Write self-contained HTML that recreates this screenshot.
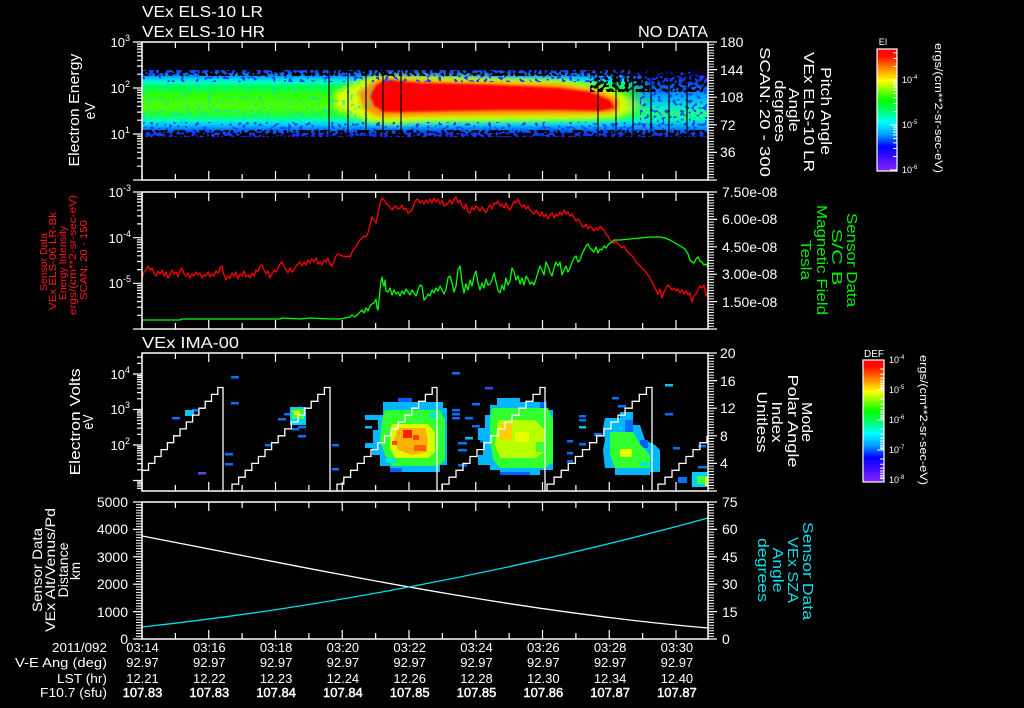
<!DOCTYPE html>
<html><head><meta charset="utf-8"><style>html,body{margin:0;padding:0;background:#000}svg{display:block}</style></head>
<body>
<svg width="1024" height="708" viewBox="0 0 1024 708" xmlns="http://www.w3.org/2000/svg" font-family="'Liberation Sans', sans-serif">
<defs>
  <linearGradient id="cb" x1="0" y1="0" x2="0" y2="1">
    <stop offset="0" stop-color="#ff0000"/><stop offset="0.06" stop-color="#ff1000"/>
    <stop offset="0.14" stop-color="#ff7000"/><stop offset="0.26" stop-color="#ffff00"/>
    <stop offset="0.42" stop-color="#00ff00"/><stop offset="0.5" stop-color="#00ff60"/>
    <stop offset="0.6" stop-color="#00ffff"/><stop offset="0.7" stop-color="#00a0ff"/>
    <stop offset="0.8" stop-color="#0000ff"/><stop offset="1" stop-color="#8a20ff"/>
  </linearGradient>
  <linearGradient id="gBase" gradientUnits="userSpaceOnUse" x1="0" y1="70" x2="0" y2="137">
    <stop offset="0" stop-color="#1838e8"/><stop offset="0.06" stop-color="#0070ff"/>
    <stop offset="0.12" stop-color="#00c0ff"/><stop offset="0.18" stop-color="#00ffc0"/>
    <stop offset="0.25" stop-color="#00ff50"/><stop offset="0.37" stop-color="#30ff00"/>
    <stop offset="0.55" stop-color="#50ff00"/><stop offset="0.66" stop-color="#20ff30"/>
    <stop offset="0.75" stop-color="#00ffb0"/><stop offset="0.82" stop-color="#00c8ff"/>
    <stop offset="0.88" stop-color="#0080ff"/><stop offset="0.94" stop-color="#0040ff"/>
    <stop offset="1" stop-color="#2020d0"/>
  </linearGradient>
  <linearGradient id="gRight" gradientUnits="userSpaceOnUse" x1="0" y1="70" x2="0" y2="137">
    <stop offset="0" stop-color="#000040"/><stop offset="0.1" stop-color="#1020e0"/>
    <stop offset="0.25" stop-color="#0060ff"/><stop offset="0.4" stop-color="#00a8ff"/>
    <stop offset="0.55" stop-color="#00e8d0"/><stop offset="0.65" stop-color="#20ff80"/>
    <stop offset="0.75" stop-color="#00f0c0"/><stop offset="0.85" stop-color="#00a0ff"/>
    <stop offset="0.93" stop-color="#0050ff"/><stop offset="1" stop-color="#1020c0"/>
  </linearGradient>
  <linearGradient id="fadeR" gradientUnits="userSpaceOnUse" x1="622" y1="0" x2="652" y2="0">
    <stop offset="0" stop-color="#000"/><stop offset="1" stop-color="#fff"/>
  </linearGradient>
  <mask id="mR"><rect x="590" y="60" width="130" height="90" fill="url(#fadeR)"/></mask>
  <clipPath id="c1"><rect x="142" y="70" width="566" height="67"/></clipPath>
  <filter id="bl3" x="-20%" y="-50%" width="140%" height="200%"><feGaussianBlur stdDeviation="3"/></filter>
  <filter id="bl2" x="-20%" y="-50%" width="140%" height="200%"><feGaussianBlur stdDeviation="2"/></filter>
  <filter id="bl1" x="-20%" y="-50%" width="140%" height="200%"><feGaussianBlur stdDeviation="1"/></filter>
  <filter id="nBlk" x="0" y="0" width="1" height="1" color-interpolation-filters="sRGB">
    <feTurbulence type="fractalNoise" baseFrequency="0.26 0.3" numOctaves="1" seed="3"/>
    <feColorMatrix type="matrix" values="0 0 0 0 0  0 0 0 0 0  0 0 0 0 0  1 0 0 0 0"/>
    <feComponentTransfer><feFuncA type="discrete" tableValues="0 0 0 0 0 1 1 1 1 1"/></feComponentTransfer>
  </filter>
  <filter id="nBlk2" x="0" y="0" width="1" height="1" color-interpolation-filters="sRGB">
    <feTurbulence type="fractalNoise" baseFrequency="0.24 0.28" numOctaves="1" seed="11"/>
    <feColorMatrix type="matrix" values="0 0 0 0 0  0 0 0 0 0  0 0 0 0 0  1 0 0 0 0"/>
    <feComponentTransfer><feFuncA type="discrete" tableValues="0 0 0 0 0 1 1 1 1 1"/></feComponentTransfer>
  </filter>
  <filter id="nBlu" x="0" y="0" width="1" height="1" color-interpolation-filters="sRGB">
    <feTurbulence type="fractalNoise" baseFrequency="0.26 0.3" numOctaves="1" seed="7"/>
    <feColorMatrix type="matrix" values="0 0 0 0 0.1  0 0 0 0 0.25  0 0 0 0 1  1 0 0 0 0"/>
    <feComponentTransfer><feFuncA type="discrete" tableValues="0 0 0 0 0 0 1 1 1 1"/></feComponentTransfer>
  </filter>
  <filter id="nCy" x="0" y="0" width="1" height="1" color-interpolation-filters="sRGB">
    <feTurbulence type="fractalNoise" baseFrequency="0.26 0.3" numOctaves="1" seed="19"/>
    <feColorMatrix type="matrix" values="0 0 0 0 0  0 0 0 0 0.85  0 0 0 0 1  1 0 0 0 0"/>
    <feComponentTransfer><feFuncA type="discrete" tableValues="0 0 0 0 0 1 1 1"/></feComponentTransfer>
  </filter>
  <g id="tx">
    <line x1="141.4" y1="4.5" x2="708" y2="4.5" stroke="#fff" stroke-width="9" stroke-dasharray="1.2 65.55"/>
    <line x1="174.8" y1="3" x2="708" y2="3" stroke="#fff" stroke-width="6" stroke-dasharray="1.2 65.55"/>
  </g>
</defs>

<rect x="0" y="0" width="1024" height="708" fill="#000"/>

<g fill="#fff" font-size="16">
  <text x="142" y="17" textLength="121" lengthAdjust="spacingAndGlyphs">VEx ELS-10 LR</text>
  <text x="142" y="37" textLength="123" lengthAdjust="spacingAndGlyphs">VEx ELS-10 HR</text>
  <text x="638" y="37" textLength="70" lengthAdjust="spacingAndGlyphs">NO DATA</text>
  <text x="142" y="348" textLength="97" lengthAdjust="spacingAndGlyphs">VEx IMA-00</text>
</g>

<!-- PANEL 1 spectrogram -->
<g clip-path="url(#c1)">
  <rect x="142" y="70" width="566" height="67" fill="url(#gBase)"/>
  <polygon fill="#d8ff00" filter="url(#bl3)" points="335,92 350,85 365,78 380,75 420,76 500,78 560,80 600,86 625,95 640,103 635,112 615,118 580,120 500,121 420,122 390,124 370,122 350,115 335,108"/>
  <polygon fill="#ff9000" filter="url(#bl2)" points="358,93 372,82 385,78 420,80 500,82 560,84 598,90 620,100 617,112 598,114 500,115 420,116 380,117 364,110"/>
  <polygon fill="#ff0000" filter="url(#bl1)" points="370,95 377,84 388,80 420,83 470,84 520,86 560,88 590,92 610,100 615,108 600,111 560,110 500,110 450,111 400,112 385,112 374,106"/>
  <rect x="600" y="70" width="108" height="67" fill="url(#gRight)" mask="url(#mR)"/>
  <rect x="142" y="82" width="230" height="40" fill="#000" filter="url(#nCy)" opacity="0.55"/>
  <rect x="142" y="72" width="566" height="10" fill="#000" filter="url(#nBlu)"/>
  <rect x="142" y="122" width="566" height="15" fill="#000" filter="url(#nBlu)"/>
  <rect x="640" y="86" width="68" height="48" fill="#000" filter="url(#nBlu)"/>
  <rect x="142" y="70" width="566" height="6" fill="#000" filter="url(#nBlk)"/>
  <rect x="142" y="130" width="566" height="7" fill="#000" filter="url(#nBlk)"/>
  <rect x="590" y="70" width="118" height="22" fill="#000" filter="url(#nBlk2)"/>
  <g stroke="#000" stroke-width="1.2">
    <line x1="329" y1="70" x2="329" y2="137"/><line x1="348" y1="70" x2="348" y2="137"/>
    <line x1="366" y1="70" x2="366" y2="137"/><line x1="383" y1="70" x2="383" y2="137"/>
    <line x1="401" y1="70" x2="401" y2="137"/><line x1="598" y1="70" x2="598" y2="137"/>
    <line x1="616" y1="70" x2="616" y2="137"/><line x1="633" y1="70" x2="633" y2="137"/>
    <line x1="651" y1="70" x2="651" y2="137"/><line x1="669" y1="70" x2="669" y2="137"/>
    <line x1="687" y1="70" x2="687" y2="137"/>
  </g>
</g>

<!-- PANEL 2 lines -->
<polyline fill="none" stroke="#ff0000" stroke-width="1.3" stroke-linejoin="round" points="142,279 144,272 146,270 148,266 150,270 152,268 154,273 156,276 158,271 160,274 162,270 164,276 166,272 168,278 170,275 172,270 174,274 176,272 178,277 180,271 182,268 184,274 186,276 188,273 190,278 192,274 194,276 196,272 198,275 200,273 202,278 204,275 206,276 208,272 210,277 212,274 214,276 216,271 218,273 220,268 222,266 224,275 226,280 228,276 230,278 232,273 234,276 236,272 238,279 240,274 242,276 244,271 246,277 248,275 250,278 252,273 254,276 256,270 258,272 260,266 262,265 264,270 266,274 268,271 270,278 272,274 274,270 276,272 278,268 280,264 282,262 284,266 286,270 288,273 290,268 292,272 294,270 296,266 298,264 300,262 302,266 304,262 306,265 308,260 310,263 312,259 314,262 316,258 318,264 320,262 322,265 324,260 326,262 328,258 330,264 332,266 334,262 336,256 338,254 340,255 342,256 344,256 346,257 348,256 350,257 352,252 354,249 356,247 358,243 360,240 362,238 364,236 366,237 368,233 370,225 372,217 374,220 376,223 378,214 380,204 382,198 384,200 386,203 388,205 390,207 392,210 394,207 396,206 398,209 400,208 402,205 404,210 406,208 408,213 410,212 412,210 414,204 416,200 418,199 420,203 422,201 424,204 426,200 428,203 430,199 432,203 434,198 436,202 438,199 440,204 442,200 444,206 446,205 448,203 450,200 452,204 454,199 456,197 458,203 460,200 462,206 464,209 466,204 468,212 470,213 472,207 474,210 476,206 478,208 480,211 482,207 484,210 486,213 488,208 490,205 492,209 494,203 496,204 498,201 500,206 502,204 504,208 506,203 508,208 510,210 512,206 514,201 516,203 518,199 520,204 522,207 524,205 526,209 528,206 530,210 532,212 534,214 536,210 538,213 540,216 542,212 544,217 546,214 548,219 550,215 552,213 554,218 556,214 558,216 560,212 562,215 564,210 566,214 568,212 570,216 572,214 574,218 576,221 578,219 580,222 582,226 584,227 586,224 588,229 590,226 592,228 594,231 596,228 598,230 600,226 602,229 604,230 606,234 608,236 610,240 612,242 614,243 616,241 618,244 620,245 622,248 624,246 626,250 628,252 630,254 632,256 634,258 636,262 638,264 640,266 642,268 644,270 646,272 648,275 650,278 652,282 654,286 656,290 658,294 660,289 662,298 664,292 666,288 668,285 670,287 672,290 674,288 676,291 678,289 680,293 682,290 684,294 686,291 688,295 690,293 692,302 694,296 696,294 698,290 700,286 702,288 704,285 706,296 708,292"/>
<polyline fill="none" stroke="#00ff00" stroke-width="1.3" stroke-linejoin="round" points="142,320 180,320 182,319 200,319 240,319 260,319 280,319 282,318 300,319 310,318 330,319 340,319 345,318 350,317 352,315 355,317 358,314 360,312 362,310 364,313 366,308 368,311 370,306 372,304 374,303 376,299 377,308 378,310 379,300 380,290 381,282 382,277 383,284 384,286 385,280 386,291 388,292 390,288 392,295 394,290 396,294 398,292 400,296 402,291 404,294 406,289 408,292 410,295 412,290 414,293 416,296 418,290 420,285 422,286 424,300 426,298 428,294 430,296 432,290 434,293 436,288 438,291 440,286 442,290 444,294 446,289 448,278 450,276 452,283 454,292 456,286 458,270 460,266 462,282 464,293 466,284 468,290 470,280 472,286 474,276 476,271 478,283 480,290 482,283 484,288 486,279 488,285 490,284 492,280 494,273 496,282 498,290 500,293 502,285 504,290 506,278 508,285 510,281 512,268 514,272 516,280 518,276 520,284 522,278 524,285 526,276 528,279 530,284 532,282 534,285 536,279 538,272 540,266 542,270 544,275 546,262 548,266 550,272 552,276 554,268 556,262 558,266 560,262 562,275 564,270 566,266 568,272 570,268 572,262 574,258 576,256 578,262 580,260 582,254 584,250 586,246 588,244 590,248 592,250 594,252 596,247 598,253 600,249 602,250 604,246 606,248 608,245 610,243 612,242 614,240 620,240 630,239 640,238 650,237 660,237 665,238 670,240 675,243 680,246 685,249 688,254 690,260 692,262 694,263 696,259 698,257 700,261 702,262 704,265 706,264 708,267"/>

<!-- PANEL 3 spectrogram -->
<g>
  <g fill="#0070ff">
    <rect x="172" y="417" width="8" height="2.5"/><rect x="192" y="409" width="6" height="2.5"/>
    <rect x="198" y="472" width="8" height="2.5" fill="#6040ff"/><rect x="231" y="376" width="8" height="2.5"/>
    <rect x="231" y="402" width="8" height="2.5"/><rect x="225" y="453" width="8" height="2.5"/>
    <rect x="225" y="463" width="8" height="2.5"/><rect x="265" y="444" width="7" height="2.5"/>
    <rect x="278" y="418" width="8" height="2.5"/><rect x="284" y="413" width="7" height="2.5"/>
    <rect x="292" y="428" width="7" height="2.5"/><rect x="298" y="426" width="8" height="2.5"/>
    <rect x="298" y="435" width="8" height="2.5"/><rect x="332" y="444" width="7" height="2.5"/>
    <rect x="332" y="468" width="7" height="2.5"/><rect x="365" y="426" width="7" height="2.5" fill="#00c0ff"/>
    <rect x="372" y="445" width="6" height="2.5"/><rect x="452" y="372" width="8" height="2.5"/>
    <rect x="452" y="409" width="8" height="2.5"/><rect x="452" y="413" width="8" height="2.5"/>
    <rect x="452" y="417" width="8" height="2.5"/><rect x="465" y="417" width="8" height="2.5"/>
    <rect x="465" y="437" width="8" height="2.5" fill="#00c0ff"/><rect x="458" y="442" width="9" height="2.5"/>
    <rect x="458" y="449" width="9" height="2.5"/><rect x="458" y="464" width="9" height="2.5"/>
    <rect x="472" y="403" width="8" height="2.5"/><rect x="485" y="387" width="8" height="2.5" fill="#4040ff"/>
    <rect x="472" y="425" width="8" height="2.5"/><rect x="480" y="432" width="7" height="2.5"/>
    <rect x="480" y="440" width="7" height="2.5"/><rect x="480" y="457" width="7" height="2.5"/>
    <rect x="567" y="440" width="6" height="2.5"/><rect x="567" y="452" width="6" height="2.5"/>
    <rect x="567" y="460" width="6" height="2.5"/><rect x="579" y="415" width="7" height="2.5"/>
    <rect x="579" y="419" width="7" height="2.5"/><rect x="579" y="426" width="7" height="2.5" fill="#00c0ff"/>
    <rect x="579" y="443" width="7" height="2.5"/><rect x="665" y="384" width="8" height="2.5" fill="#00c0ff"/>
    <rect x="665" y="413" width="8" height="2.5"/><rect x="673" y="447" width="7" height="2.5"/>
    <rect x="678" y="477" width="9" height="6"/><rect x="698" y="445" width="8" height="2.5"/>
    <rect x="698" y="466" width="9" height="2.5"/><rect x="612" y="397" width="7" height="2.5"/>
    <rect x="618" y="405" width="8" height="2.5"/><rect x="594" y="433" width="8" height="3"/>
  </g>
  <rect x="185" y="410" width="9" height="6" fill="#00c8ff"/>
  <rect x="290" y="407" width="16" height="18" fill="#00d0ff"/>
  <rect x="292" y="409" width="12" height="10" fill="#40ff30"/>
  <rect x="294" y="411" width="6" height="4" fill="#d8ff00"/>
  <rect x="692" y="472" width="16" height="15" fill="#00d0ff"/>
  <rect x="697" y="476" width="10" height="8" fill="#40ff40"/>
  <rect x="705" y="477" width="3" height="9" fill="#e0ff00"/>
  <polygon fill="#00b8ff" points="398,398 412,398 412,402 443,402 443,408 447,408 447,465 440,465 440,472 390,472 390,466 380,466 380,455 372,455 372,448 365,448 365,443 373,443 373,430 378,430 378,420 365,420 365,415 383,415 383,402 398,402"/>
  <rect x="398" y="398" width="14" height="4" fill="#0060ff"/>
  <rect x="390" y="468" width="12" height="4" fill="#0060ff"/>
  <polygon fill="#30ff30" points="385,410 440,410 445,420 445,460 438,466 392,466 385,455 380,440 382,420"/>
  <rect x="430" y="412" width="8" height="6" fill="#00e8d0"/>
  <rect x="386" y="458" width="10" height="5" fill="#00e8d0"/>
  <polygon fill="#d8ff00" points="392,424 428,424 435,432 435,452 428,458 395,458 390,448 390,432"/>
  <polygon fill="#ffb000" points="398,428 425,428 428,440 427,452 412,455 398,450 394,440"/>
  <rect x="403" y="430" width="9" height="8" fill="#ff2000"/>
  <rect x="413" y="435" width="6" height="5" fill="#ff4000"/>
  <rect x="392" y="441" width="5" height="4" fill="#ff4000"/>
  <rect x="414" y="445" width="12" height="6" fill="#ff6000"/>
  <polygon fill="#00b8ff" points="497,398 520,398 520,402 545,402 545,410 553,410 553,470 540,470 540,475 500,475 500,470 490,470 490,465 478,465 478,455 483,455 483,440 478,440 478,428 485,428 485,415 490,415 490,405 497,405"/>
  <rect x="540" y="402" width="7" height="8" fill="#0060ff"/>
  <rect x="500" y="472" width="30" height="3" fill="#0060ff"/>
  <polygon fill="#30ff30" points="492,408 548,408 553,420 553,462 545,468 500,468 493,460 490,440 490,420"/>
  <polygon fill="#b8ff00" points="498,420 535,420 545,430 545,452 535,458 500,458 495,445"/>
  <rect x="500" y="424" width="12" height="16" fill="#ffd000"/>
  <rect x="515" y="432" width="14" height="10" fill="#e8ff00"/>
  <rect x="536" y="442" width="9" height="10" fill="#40ff40"/>
  <polygon fill="#00b8ff" points="605,418 620,418 620,412 633,412 633,425 640,425 645,440 655,445 660,450 660,472 650,472 650,475 615,475 615,468 605,468 603,450 605,440 603,428"/>
  <rect x="625" y="420" width="8" height="18" fill="#0070ff"/>
  <rect x="640" y="440" width="8" height="8" fill="#0060ff"/>
  <polygon fill="#30ff30" points="610,432 633,432 640,444 650,455 650,468 615,468 610,455"/>
  <rect x="620" y="449" width="12" height="8" fill="#e8ff00"/>
  <rect x="640" y="462" width="10" height="4" fill="#00e8d0"/>
  <path fill="none" stroke="#fff" stroke-width="1.3" d="M142 470.3h6.5v-6.9h6.3v-6.9h6.3v-6.9h6.3v-6.9h6.3v-6.9h6.3v-6.9h6.3v-6.9h6.3v-6.9h6.3v-6.9h6.3v-6.9h6.3v-6.9h6.3v-6.9H223V491
  M232 491V484.1h6.6v-6.9h6.6v-6.9h6.6v-6.9h6.6v-6.9h6.6v-6.9h6.6v-6.9h6.6v-6.9h6.6v-6.9h6.6v-6.9h6.6v-6.9h6.6v-6.9h6.6v-6.9h6.6v-6.9h6.6v-6.9H330V491
  M337 491V484.1h6.8v-6.9h6.8v-6.9h6.8v-6.9h6.8v-6.9h6.8v-6.9h6.8v-6.9h6.8v-6.9h6.8v-6.9h6.8v-6.9h6.8v-6.9h6.8v-6.9h6.8v-6.9h6.8v-6.9h6.8v-6.9H437V491
  M442 491V484.1h7v-6.9h7v-6.9h7v-6.9h7v-6.9h7v-6.9h7v-6.9h7v-6.9h7v-6.9h7v-6.9h7v-6.9h7v-6.9h7v-6.9h7v-6.9h7v-6.9H545V491
  M547 491V484.1h7.1v-6.9h7.1v-6.9h7.1v-6.9h7.1v-6.9h7.1v-6.9h7.1v-6.9h7.1v-6.9h7.1v-6.9h7.1v-6.9h7.1v-6.9h7.1v-6.9h7.1v-6.9h7.1v-6.9h7.1v-6.9H652V491
  M658 491V484.1h7v-6.9h7v-6.9h7v-6.9h7v-6.9h7v-6.9h7v-6.9h7v-6.9"/>
</g>

<!-- PANEL 4 lines -->
<path fill="none" stroke="#fff" stroke-width="1.3" d="M142 536C300 566 500 610 708 628"/>
<path fill="none" stroke="#00e0ee" stroke-width="1.3" d="M142 627C300 610 500 575 708 518"/>

<!-- FRAMES & TICKS -->
<g fill="none" stroke="#fff" stroke-width="1.5">
  <rect x="142" y="42" width="566" height="138"/>
  <rect x="142" y="192" width="566" height="137"/>
  <rect x="142" y="353" width="566" height="138"/>
  <rect x="142" y="502" width="566" height="137"/>
</g>
<use href="#tx" y="42"/><use href="#tx" transform="matrix(1 0 0 -1 0 180)"/>
<use href="#tx" y="192"/><use href="#tx" transform="matrix(1 0 0 -1 0 329)"/>
<use href="#tx" y="353"/><use href="#tx" transform="matrix(1 0 0 -1 0 491)"/>
<use href="#tx" y="502"/><use href="#tx" transform="matrix(1 0 0 -1 0 639)"/>
<g stroke="#fff">
  <line x1="711" y1="41.5" x2="711" y2="180.6" stroke-width="6" stroke-dasharray="1 1.76"/>
  <line x1="712.5" y1="41.4" x2="712.5" y2="181" stroke-width="9" stroke-dasharray="1.2 26.4"/>
  <line x1="711" y1="191.5" x2="711" y2="329.6" stroke-width="6" stroke-dasharray="1 1.74"/>
  <line x1="712.5" y1="191.4" x2="712.5" y2="330" stroke-width="9" stroke-dasharray="1.2 26.2"/>
  <line x1="711" y1="352.5" x2="711" y2="491.6" stroke-width="6" stroke-dasharray="1 1.76"/>
  <line x1="712.5" y1="352.4" x2="712.5" y2="492" stroke-width="9" stroke-dasharray="1.2 26.4"/>
  <line x1="711" y1="501.5" x2="711" y2="639.6" stroke-width="6" stroke-dasharray="1 1.74"/>
  <line x1="712.5" y1="501.4" x2="712.5" y2="640" stroke-width="9" stroke-dasharray="1.2 26.2"/>
  <line x1="139" y1="501.5" x2="139" y2="639.6" stroke-width="6" stroke-dasharray="1 1.74"/>
  <line x1="137.5" y1="501.4" x2="137.5" y2="640" stroke-width="9" stroke-dasharray="1.2 26.2"/>
  <path stroke-width="1.2" fill="none" d="M142 42h-9M142 88h-9M142 134h-9M142 180h-9
  M142 166.2h-5M142 158.1h-5M142 152.3h-5M142 147.9h-5M142 144.2h-5M142 141.1h-5M142 138.5h-5M142 136.1h-5
  M142 120.2h-5M142 112.1h-5M142 106.3h-5M142 101.9h-5M142 98.2h-5M142 95.1h-5M142 92.5h-5M142 90.1h-5
  M142 74.2h-5M142 66.1h-5M142 60.3h-5M142 55.9h-5M142 52.2h-5M142 49.1h-5M142 46.5h-5M142 44.1h-5
  M142 192h-9M142 237.7h-9M142 283.3h-9M142 329h-9
  M142 315.3h-5M142 307.2h-5M142 301.5h-5M142 297.1h-5M142 293.5h-5M142 290.4h-5M142 287.8h-5M142 285.4h-5
  M142 269.6h-5M142 261.5h-5M142 255.8h-5M142 251.4h-5M142 247.8h-5M142 244.7h-5M142 242.1h-5M142 239.8h-5
  M142 223.9h-5M142 215.9h-5M142 210.2h-5M142 205.8h-5M142 202.1h-5M142 199.1h-5M142 196.4h-5M142 194.1h-5
  M142 374h-9M142 409.5h-9M142 445h-9M142 480.5h-9
  M142 488.4h-5M142 486h-5M142 483.9h-5M142 482.1h-5
  M142 469.8h-5M142 463.6h-5M142 459.1h-5M142 455.7h-5M142 452.9h-5M142 450.5h-5M142 448.4h-5M142 446.6h-5
  M142 434.3h-5M142 428.1h-5M142 423.6h-5M142 420.2h-5M142 417.4h-5M142 415h-5M142 412.9h-5M142 411.1h-5
  M142 398.8h-5M142 392.6h-5M142 388.1h-5M142 384.7h-5M142 381.9h-5M142 379.5h-5M142 377.4h-5M142 375.6h-5
  M142 363.3h-5M142 357.1h-5"/>
</g>

<!-- TICK LABELS -->
<g fill="#fff" font-size="13" text-anchor="end">
  <text x="130" y="47">10<tspan font-size="9" dy="-6">3</tspan></text>
  <text x="130" y="93">10<tspan font-size="9" dy="-6">2</tspan></text>
  <text x="130" y="139">10<tspan font-size="9" dy="-6">1</tspan></text>
  <text x="131" y="197">10<tspan font-size="9" dy="-6">-3</tspan></text>
  <text x="131" y="243">10<tspan font-size="9" dy="-6">-4</tspan></text>
  <text x="131" y="288">10<tspan font-size="9" dy="-6">-5</tspan></text>
  <text x="130" y="379">10<tspan font-size="9" dy="-6">4</tspan></text>
  <text x="130" y="414">10<tspan font-size="9" dy="-6">3</tspan></text>
  <text x="130" y="450">10<tspan font-size="9" dy="-6">2</tspan></text>
</g>
<g fill="#fff" font-size="14" text-anchor="end">
  <text x="128" y="507">5000</text><text x="128" y="534">4000</text><text x="128" y="562">3000</text>
  <text x="128" y="589">2000</text><text x="128" y="617">1000</text><text x="128" y="644">0</text>
</g>
<g fill="#fff" font-size="14">
  <text x="720" y="47">180</text><text x="720" y="75">144</text><text x="720" y="102">108</text>
  <text x="720" y="130">72</text><text x="720" y="157">36</text>
  <text x="722" y="197">7.50e-08</text><text x="722" y="224">6.00e-08</text><text x="722" y="252">4.50e-08</text>
  <text x="722" y="279">3.00e-08</text><text x="722" y="307">1.50e-08</text>
  <text x="720" y="358">20</text><text x="720" y="386">16</text><text x="720" y="413">12</text>
  <text x="720" y="441">8</text><text x="720" y="468">4</text>
  <text x="722" y="507">75</text><text x="722" y="534">60</text><text x="722" y="562">45</text>
  <text x="722" y="589">30</text><text x="722" y="617">15</text><text x="722" y="644">0</text>
</g>

<!-- AXIS TITLES -->
<g fill="#fff" font-size="15" text-anchor="middle">
  <text transform="translate(79,110) rotate(-90)" textLength="113" lengthAdjust="spacingAndGlyphs">Electron Energy</text>
  <text transform="translate(95,111) rotate(-90)" textLength="17" lengthAdjust="spacingAndGlyphs">eV</text>
  <text transform="translate(80,422) rotate(-90)" textLength="107" lengthAdjust="spacingAndGlyphs">Electron Volts</text>
  <text transform="translate(93,422) rotate(-90)" textLength="15" lengthAdjust="spacingAndGlyphs">eV</text>
</g>
<g fill="#fff" font-size="14" text-anchor="middle">
  <text transform="translate(42,570) rotate(-90)" textLength="84" lengthAdjust="spacingAndGlyphs">Sensor Data</text>
  <text transform="translate(55,570) rotate(-90)" textLength="124" lengthAdjust="spacingAndGlyphs">VEx Alt/Venus/Pd</text>
  <text transform="translate(68,570) rotate(-90)" textLength="55" lengthAdjust="spacingAndGlyphs">Distance</text>
  <text transform="translate(80,571) rotate(-90)" textLength="18" lengthAdjust="spacingAndGlyphs">km</text>
</g>
<g fill="#ff1a1a" font-size="10.5" text-anchor="middle">
  <text transform="translate(47,262) rotate(-90)" textLength="58" lengthAdjust="spacingAndGlyphs">Sensor Data</text>
  <text transform="translate(56,261) rotate(-90)" textLength="98" lengthAdjust="spacingAndGlyphs">VEx ELS-06 LR-Bk</text>
  <text transform="translate(66,263) rotate(-90)" textLength="74" lengthAdjust="spacingAndGlyphs">Energy Intensity</text>
  <text transform="translate(76,255) rotate(-90)" textLength="120" lengthAdjust="spacingAndGlyphs">ergs/(cm**2-sr-sec-eV)</text>
  <text transform="translate(87,260) rotate(-90)" textLength="80" lengthAdjust="spacingAndGlyphs">SCAN: 20 - 150</text>
</g>
<g fill="#fff" font-size="15" text-anchor="middle">
  <text transform="translate(821,111) rotate(90)" textLength="88" lengthAdjust="spacingAndGlyphs">Pitch Angle</text>
  <text transform="translate(804,112) rotate(90)" textLength="120" lengthAdjust="spacingAndGlyphs">VEx ELS-10 LR</text>
  <text transform="translate(789,110) rotate(90)" textLength="44" lengthAdjust="spacingAndGlyphs">Angle</text>
  <text transform="translate(775,111) rotate(90)" textLength="62" lengthAdjust="spacingAndGlyphs">degrees</text>
  <text transform="translate(760,112) rotate(90)" textLength="130" lengthAdjust="spacingAndGlyphs">SCAN: 20 - 300</text>
  <text transform="translate(802,422) rotate(90)" textLength="40" lengthAdjust="spacingAndGlyphs">Mode</text>
  <text transform="translate(788,421) rotate(90)" textLength="93" lengthAdjust="spacingAndGlyphs">Polar Angle</text>
  <text transform="translate(772,422) rotate(90)" textLength="41" lengthAdjust="spacingAndGlyphs">Index</text>
  <text transform="translate(757,422) rotate(90)" textLength="61" lengthAdjust="spacingAndGlyphs">Unitless</text>
</g>
<g fill="#00ee00" font-size="15" text-anchor="middle">
  <text transform="translate(847,260) rotate(90)" textLength="94" lengthAdjust="spacingAndGlyphs">Sensor Data</text>
  <text transform="translate(832,257) rotate(90)" textLength="57" lengthAdjust="spacingAndGlyphs">S/C B</text>
  <text transform="translate(817,260) rotate(90)" textLength="110" lengthAdjust="spacingAndGlyphs">Magnetic Field</text>
  <text transform="translate(801,260) rotate(90)" textLength="40" lengthAdjust="spacingAndGlyphs">Tesla</text>
</g>
<g fill="#00e0ee" font-size="15" text-anchor="middle">
  <text transform="translate(803,571) rotate(90)" textLength="98" lengthAdjust="spacingAndGlyphs">Sensor Data</text>
  <text transform="translate(788,570) rotate(90)" textLength="66" lengthAdjust="spacingAndGlyphs">VEx SZA</text>
  <text transform="translate(773,570) rotate(90)" textLength="45" lengthAdjust="spacingAndGlyphs">Angle</text>
  <text transform="translate(758,570) rotate(90)" textLength="64" lengthAdjust="spacingAndGlyphs">degrees</text>
</g>

<!-- COLORBARS -->
<rect x="877" y="49" width="20" height="122" fill="url(#cb)" stroke="#fff" stroke-width="1.2"/>
<path stroke="#fff" stroke-width="1" fill="none" d="M897 80h-7M897 125h-7M897 170h-7M897 66.5h-4M897 58.5h-4M897 52.9h-4M897 111.5h-4M897 103.5h-4M897 97.9h-4M897 93.5h-4M897 90h-4M897 87h-4M897 84.4h-4M897 82.1h-4M897 156.5h-4M897 148.5h-4M897 142.9h-4M897 138.5h-4M897 135h-4M897 132h-4M897 129.4h-4M897 127.1h-4"/>
<g fill="#fff" font-size="9">
  <text x="883" y="45" font-size="9" text-anchor="middle">EI</text>
  <text x="902" y="83">10<tspan font-size="6" dy="-4">-4</tspan></text>
  <text x="902" y="128">10<tspan font-size="6" dy="-4">-5</tspan></text>
  <text x="902" y="173">10<tspan font-size="6" dy="-4">-6</tspan></text>
</g>
<text transform="translate(935,108) rotate(90)" fill="#fff" font-size="11" text-anchor="middle" textLength="130" lengthAdjust="spacingAndGlyphs">ergs/(cm**2-sr-sec-eV)</text>

<rect x="863" y="360" width="21" height="122" fill="url(#cb)" stroke="#fff" stroke-width="1.2"/>
<path stroke="#fff" stroke-width="1" fill="none" d="M884 390h-7M884 420h-7M884 450h-7M884 369h-4M884 374.3h-4M884 378.1h-4M884 381h-4M884 383.3h-4M884 385.4h-4M884 387.1h-4M884 388.6h-4M884 399h-4M884 404.3h-4M884 408.1h-4M884 411h-4M884 413.3h-4M884 415.4h-4M884 417.1h-4M884 418.6h-4M884 429h-4M884 434.3h-4M884 438.1h-4M884 441h-4M884 443.3h-4M884 445.4h-4M884 447.1h-4M884 448.6h-4M884 459h-4M884 464.3h-4M884 468.1h-4M884 471h-4M884 473.3h-4M884 475.4h-4M884 477.1h-4M884 478.6h-4"/>
<g fill="#fff" font-size="9">
  <text x="874" y="357" font-size="10" text-anchor="middle">DEF</text>
  <text x="889" y="363">10<tspan font-size="6" dy="-4">-4</tspan></text>
  <text x="889" y="393">10<tspan font-size="6" dy="-4">-5</tspan></text>
  <text x="889" y="423">10<tspan font-size="6" dy="-4">-6</tspan></text>
  <text x="889" y="453">10<tspan font-size="6" dy="-4">-7</tspan></text>
  <text x="889" y="483">10<tspan font-size="6" dy="-4">-8</tspan></text>
</g>
<text transform="translate(920,420) rotate(90)" fill="#fff" font-size="11" text-anchor="middle" textLength="130" lengthAdjust="spacingAndGlyphs">ergs/(cm**2-sr-sec-eV)</text>

<!-- BOTTOM ANNOTATION ROWS -->
<g fill="#fff" font-size="13" text-anchor="end">
  <text x="107" y="652" textLength="55" lengthAdjust="spacingAndGlyphs">2011/092</text>
  <text x="107" y="667" textLength="92" lengthAdjust="spacingAndGlyphs">V-E Ang (deg)</text>
  <text x="107" y="683" textLength="50" lengthAdjust="spacingAndGlyphs">LST (hr)</text>
  <text x="107" y="697" textLength="67" lengthAdjust="spacingAndGlyphs">F10.7 (sfu)</text>
</g>
<g fill="#fff" font-size="13" text-anchor="middle">
  <text x="142.5" y="652">03:14</text><text x="209.3" y="652">03:16</text><text x="276.1" y="652">03:18</text>
  <text x="342.9" y="652">03:20</text><text x="409.7" y="652">03:22</text><text x="476.5" y="652">03:24</text>
  <text x="543.3" y="652">03:26</text><text x="610.1" y="652">03:28</text><text x="676.9" y="652">03:30</text>
  <text x="142.5" y="667">92.97</text><text x="209.3" y="667">92.97</text><text x="276.1" y="667">92.97</text>
  <text x="342.9" y="667">92.97</text><text x="409.7" y="667">92.97</text><text x="476.5" y="667">92.97</text>
  <text x="543.3" y="667">92.97</text><text x="610.1" y="667">92.97</text><text x="676.9" y="667">92.97</text>
  <text x="142.5" y="683">12.21</text><text x="209.3" y="683">12.22</text><text x="276.1" y="683">12.23</text>
  <text x="342.9" y="683">12.24</text><text x="409.7" y="683">12.26</text><text x="476.5" y="683">12.28</text>
  <text x="543.3" y="683">12.30</text><text x="610.1" y="683">12.34</text><text x="676.9" y="683">12.40</text>
</g>
<g fill="#fff" stroke="#fff" stroke-width="0.45" font-size="13" text-anchor="middle">
  <text x="142.5" y="697">107.83</text><text x="209.3" y="697">107.83</text><text x="276.1" y="697">107.84</text>
  <text x="342.9" y="697">107.84</text><text x="409.7" y="697">107.85</text><text x="476.5" y="697">107.85</text>
  <text x="543.3" y="697">107.86</text><text x="610.1" y="697">107.87</text><text x="676.9" y="697">107.87</text>
</g>
</svg>
</body></html>
